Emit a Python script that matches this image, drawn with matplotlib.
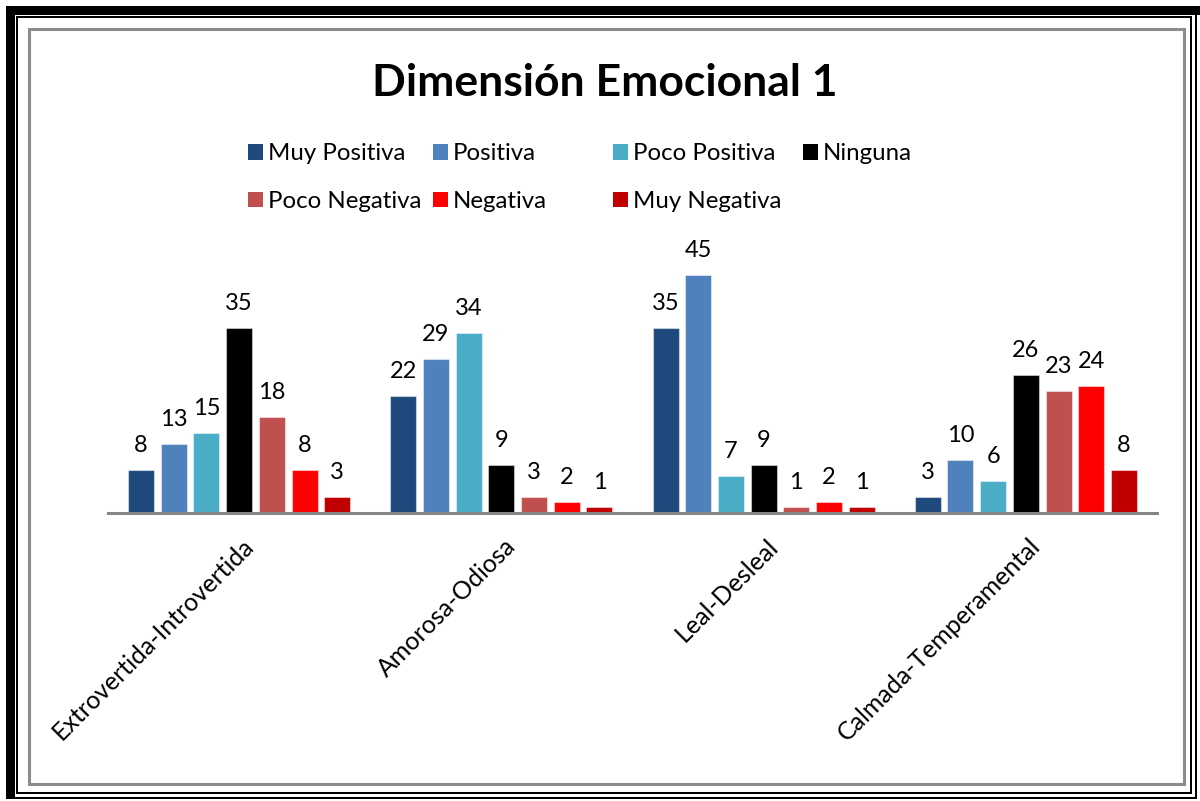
import matplotlib
matplotlib.use("Agg")
import matplotlib.pyplot as plt
import numpy as np
from matplotlib.patches import Rectangle
from matplotlib.transforms import ScaledTranslation, blended_transform_factory

plt.rcParams['font.family'] = ['Lato', 'DejaVu Sans']

categories = ["Extrovertida-Introvertida", "Amorosa-Odiosa", "Leal-Desleal", "Calmada-Temperamental"]
series_names = ["Muy Positiva", "Positiva", "Poco Positiva", "Ninguna",
                "Poco Negativa", "Negativa", "Muy Negativa"]
muy_positiva = [8, 22, 35, 3]
positiva = [13, 29, 45, 10]
poco_positiva = [15, 34, 7, 6]
ninguna = [35, 9, 9, 26]
poco_negativa = [18, 3, 1, 23]
negativa = [8, 2, 2, 24]
muy_negativa = [3, 1, 1, 8]
series_values = [muy_positiva, positiva, poco_positiva, ninguna,
                 poco_negativa, negativa, muy_negativa]
colors = ["#1F497D", "#4F81BD", "#4BACC6", "#000000", "#C0504D", "#FF0000", "#C00000"]
title = "Dimensión Emocional 1"

W, H = 1200, 801
fig = plt.figure(figsize=(W / 100, H / 100), dpi=100)

def fx(px):
    return px / W

def fy(py):
    return 1 - py / H

# ---- page borders ----
def rect_px(x0, y0, x1, y1, color):
    fig.patches.append(Rectangle((fx(x0), fy(y1)), fx(x1) - fx(x0), fy(y0) - fy(y1),
                                 transform=fig.transFigure, facecolor=color,
                                 edgecolor='none', linewidth=0, zorder=0))

# thick left/top
rect_px(6, 6, 15, 799, 'black')
rect_px(6, 6, 1200, 15, 'black')
# inner thin frame
rect_px(16, 16, 18, 794, 'black')
rect_px(16, 16, 1192, 18, 'black')
rect_px(1190, 16, 1192, 794, 'black')
rect_px(16, 792, 1192, 794, 'black')
# outer thin right/bottom
rect_px(1195, 6, 1197, 799, 'black')
rect_px(6, 797, 1197, 799, 'black')
# gray chart frame
fig.patches.append(Rectangle((fx(28.5), fy(783.5)), fx(1183.5) - fx(28.5), fy(28.5) - fy(783.5),
                             transform=fig.transFigure, facecolor='none',
                             edgecolor='#8C8C8C', linewidth=2.2, zorder=1))

# ---- axes ----
ymax = 50
base_px = 512.5
px_per_unit = 185 / 35
top_px = base_px - ymax * px_per_unit
ax = fig.add_axes([fx(108), fy(base_px), fx(1157) - fx(108), (base_px - top_px) / H])
ax.set_xlim(-0.5, len(categories) - 0.5)
ax.set_ylim(0, ymax)
for s in ['top', 'right', 'left']:
    ax.spines[s].set_visible(False)
ax.spines['bottom'].set_color('#868686')
ax.spines['bottom'].set_linewidth(2.2)
ax.set_yticks([])
ax.set_xticks([])
ax.patch.set_alpha(0)

x = np.arange(len(categories))
slot = 32.67 / 262
bw = 26 / 262
n = len(series_names)
for i, (name, vals, c) in enumerate(zip(series_names, series_values, colors)):
    off = (i - (n - 1) / 2) * slot
    bars = ax.bar(x + off, vals, width=bw, color=c, edgecolor=(1, 1, 1, 0.45),
                  linewidth=0.8, label=name, zorder=2)
    ax.bar_label(bars, padding=10, fontsize=17, color='black')

# category labels
trans = blended_transform_factory(ax.transData, ax.transAxes)
for i, cat in enumerate(categories):
    t = trans + ScaledTranslation(11 / 100, -30 / 100, fig.dpi_scale_trans)
    ax.text(i, 0, cat, transform=t, rotation=45, rotation_mode='anchor',
            ha='right', va='center', fontsize=18, color='black')

# title
fig.text(fx(605), fy(96), title, ha='center', va='baseline',
         fontsize=32, fontweight='bold', color='black')

# legend (manual layout)
col_x = [248, 433, 613, 803]
row_y = [152, 199]
for i, (name, c) in enumerate(zip(series_names, colors)):
    r, col = divmod(i, 4)
    mx, my = col_x[col], row_y[r]
    fig.patches.append(Rectangle((fx(mx), fy(my + 7.5)), fx(14.5), 15 / H,
                                 transform=fig.transFigure, facecolor=c,
                                 edgecolor='none', zorder=3))
    fig.text(fx(mx + 20), fy(my), name, ha='left', va='center_baseline',
             fontsize=17.3, color='black')

fig.savefig("out.png", dpi=100)
